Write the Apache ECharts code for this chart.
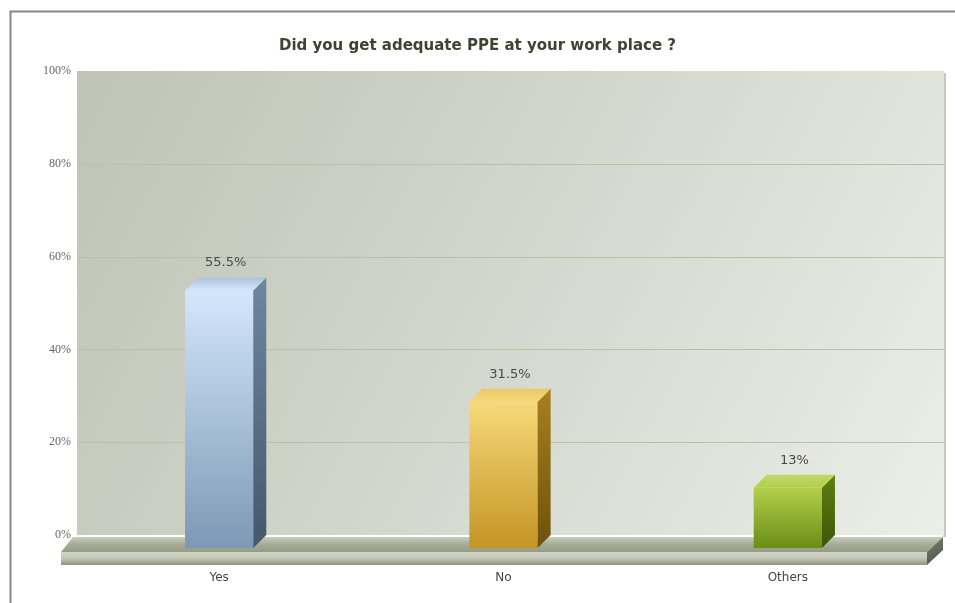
<!DOCTYPE html>
<html>
<head>
<meta charset="utf-8">
<title>Did you get adequate PPE at your work place ?</title>
<script src="https://cdn.jsdelivr.net/npm/echarts@6/dist/echarts.min.js"></script>
<style>
  html, body { margin: 0; padding: 0; background: #ffffff; }
  #chart { width: 955px; height: 603px; }
</style>
</head>
<body>
<div id="chart"></div>
<script>
// Survey answers and their shares (percent)
const categories = ['Yes', 'No', 'Others'];
const shares = [55.5, 31.5, 13];
const tickValues = [0, 20, 40, 60, 80, 100];
const titleText = 'Did you get adequate PPE at your work place ?';

// Face colours for each bar: [front top, front bottom, top face, side top, side bottom]
const barPalette = [
  ['#d3e7fc', '#7d98b5', '#aec3d8', '#6f86a0', '#46576c'],
  ['#f7d97a', '#c49424', '#e9c866', '#a7801e', '#6e520c'],
  ['#b2d04a', '#6a8d16', '#c0d86c', '#5f7f12', '#3c560a']
];

const G = echarts.graphic;
const chart = echarts.init(document.getElementById('chart'), null, { renderer: 'canvas' });

// depth of the 3D extrusion, in pixels
const DX = 13, DY = 13;

function lin(x0, y0, x1, y1, stops) {
  return new G.LinearGradient(x0, y0, x1, y1, stops.map((c, i) => ({ offset: i / (stops.length - 1), color: c })));
}

// back wall, grid lines and floor slab
function renderBackdrop(params, api) {
  const cs = params.coordSys;
  const left = cs.x, right = cs.x + cs.width;
  const yTop = api.coord([0, tickValues[tickValues.length - 1]])[1];
  const yBase = api.coord([0, 0])[1];
  const wallRight = right + DX + 1;
  const children = [];

  children.push({
    type: 'rect',
    shape: { x: wallRight - 1, y: yTop + 2, width: 3, height: yBase - yTop },
    style: { fill: '#c4c8be' }
  });
  children.push({
    type: 'rect',
    shape: { x: left, y: yTop, width: wallRight - left, height: yBase - yTop },
    style: { fill: lin(0, 0, 1, 1, ['#bfc4b6', '#d3d7cc', '#eceee8']) }
  });
  tickValues.slice(1, -1).forEach(v => {
    const y = Math.round(api.coord([0, v])[1]) + 0.5;
    children.push({
      type: 'line',
      shape: { x1: left, y1: y, x2: wallRight, y2: y },
      style: { stroke: '#b9c0a3', lineWidth: 1 }
    });
  });

  // floor slab
  const fTopBack = yBase + 2, fTopFront = yBase + 17, fBottom = yBase + 30;
  const fFrontL = left - 16, fFrontR = right - 3, fBackL = left - 4, fBackR = fFrontR + 16;
  children.push({
    type: 'polygon',
    shape: { points: [[fBackL, fTopBack], [fBackR, fTopBack], [fFrontR, fTopFront], [fFrontL, fTopFront]] },
    style: { fill: lin(0, 0, 0, 1, ['#c9cdbd', '#a5ab95', '#959b85']) }
  });
  children.push({
    type: 'rect',
    shape: { x: fFrontL, y: fTopFront, width: fFrontR - fFrontL, height: fBottom - fTopFront },
    style: { fill: lin(0, 0, 0, 1, ['#d2d6c8', '#c1c6b4', '#8e947e']) }
  });
  children.push({
    type: 'polygon',
    shape: { points: [[fFrontR, fTopFront], [fBackR, fTopBack], [fBackR, fTopBack + 13], [fFrontR, fBottom]] },
    style: { fill: lin(0, 0, 1, 1, ['#7b8072', '#4c5146']) }
  });
  return { type: 'group', children };
}

// one extruded bar with its value label
function renderBar(params, api) {
  const idx = api.value(0);
  const val = api.value(1);
  const top = api.coord([idx, val]);
  const base = api.coord([idx, 0]);
  const w = api.size([1, 0])[0] * 0.24;
  const L = top[0] - w / 2, R = top[0] + w / 2;
  const yT = top[1] + DY, yB = base[1] + DY;
  const p = barPalette[idx % barPalette.length];
  return {
    type: 'group',
    children: [
      {
        type: 'rect',
        shape: { x: L, y: yT, width: R - L, height: yB - yT },
        style: { fill: lin(0, 0, 0, 1, [p[0], p[1]]) }
      },
      {
        type: 'polygon',
        shape: { points: [[R, yT], [R + DX, yT - DY], [R + DX, yB - DY], [R, yB]] },
        style: { fill: lin(0, 0, 0, 1, [p[3], p[4]]) }
      },
      {
        type: 'polygon',
        shape: { points: [[L, yT], [L + DX, yT - DY], [R + DX, yT - DY], [R, yT]] },
        style: { fill: lin(0, 0, 0, 1, [p[2], p[0]]) }
      },
      {
        type: 'text',
        style: {
          x: top[0] + DX / 2, y: yT - DY - 8,
          text: val + '%',
          fill: '#4a4a44',
          font: '13px "DejaVu Sans", Verdana, sans-serif',
          textAlign: 'center', textVerticalAlign: 'bottom'
        }
      }
    ]
  };
}

chart.setOption({
  backgroundColor: '#ffffff',
  animation: false,
  title: {
    text: titleText,
    left: 'center',
    top: 34,
    textStyle: {
      fontFamily: '"DejaVu Sans", Verdana, sans-serif',
      fontWeight: 'bold',
      fontSize: 15,
      color: '#3b4532'
    }
  },
  graphic: [
    {
      type: 'rect',
      left: 8, top: 9,
      shape: { width: 960, height: 620 },
      style: { fill: 'none', stroke: '#858585', lineWidth: 2 },
      silent: true,
      z: -10
    }
  ],
  grid: { left: 77, right: 25, top: 71, bottom: 68 },
  xAxis: {
    type: 'category',
    data: categories,
    axisLine: { show: false },
    axisTick: { show: false },
    axisLabel: {
      margin: 37,
      fontSize: 12,
      color: '#444444',
      fontFamily: '"DejaVu Sans", Verdana, sans-serif'
    }
  },
  yAxis: {
    type: 'value',
    min: 0, max: 100, interval: 20,
    axisLine: { show: false },
    axisTick: { show: false },
    splitLine: { show: false },
    axisLabel: {
      formatter: '{value}%',
      margin: 6,
      fontSize: 12,
      color: '#666666',
      fontFamily: '"Liberation Serif", "DejaVu Serif", serif'
    }
  },
  series: [
    {
      type: 'custom',
      name: 'backdrop',
      renderItem: renderBackdrop,
      data: [[0, 0]],
      silent: true,
      z: 1
    },
    {
      type: 'custom',
      name: 'share',
      renderItem: renderBar,
      encode: { x: 0, y: 1 },
      data: shares.map((v, i) => [i, v]),
      z: 5
    }
  ]
});
</script>
</body>
</html>
